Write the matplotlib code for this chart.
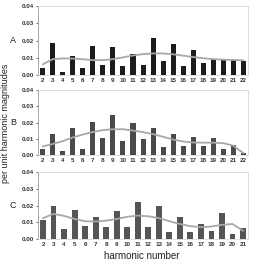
import numpy as np
import matplotlib.pyplot as plt

plt.rcParams['font.family'] = ['Liberation Sans', 'DejaVu Sans']

harm_ab = list(range(2, 23))
harm_c = list(range(2, 22))

bars_a = [0.004, 0.0185, 0.002, 0.011, 0.004, 0.017, 0.0055, 0.016, 0.005, 0.012, 0.0055,
          0.0215, 0.008, 0.018, 0.005, 0.0145, 0.007, 0.009, 0.009, 0.0085, 0.008]
trend_a = [0.0062, 0.0092, 0.0096, 0.0095, 0.0091, 0.0086, 0.0086, 0.0092, 0.0102, 0.0113, 0.0121,
           0.0125, 0.0125, 0.0120, 0.0112, 0.0104, 0.0097, 0.0092, 0.0089, 0.0087, 0.0085]

bars_b = [0.004, 0.013, 0.0025, 0.017, 0.004, 0.0205, 0.0105, 0.0245, 0.009, 0.020, 0.010,
          0.0165, 0.005, 0.013, 0.0055, 0.0115, 0.006, 0.0105, 0.004, 0.0065, 0.0015]
trend_b = [0.0055, 0.007, 0.0088, 0.011, 0.0128, 0.0143, 0.0155, 0.016, 0.016, 0.0152, 0.0142,
           0.013, 0.0114, 0.0097, 0.0085, 0.0079, 0.0078, 0.0078, 0.0075, 0.006, 0.0015]

bars_c = [0.0115, 0.020, 0.006, 0.0175, 0.0078, 0.013, 0.007, 0.017, 0.007, 0.022, 0.007,
          0.020, 0.004, 0.013, 0.004, 0.009, 0.005, 0.0155, 0.003, 0.0065]
trend_c = [0.0125, 0.015, 0.0138, 0.012, 0.0106, 0.0105, 0.011, 0.012, 0.0133, 0.014, 0.0136,
           0.0125, 0.0107, 0.009, 0.0077, 0.0071, 0.0075, 0.0085, 0.009, 0.005]

panels = [
    ("A", harm_ab, bars_a, trend_a, "#1c1c1c", 0.5, [0.148, 0.715, 0.817, 0.262]),
    ("B", harm_ab, bars_b, trend_b, "#4a4a4a", 0.5, [0.148, 0.409, 0.817, 0.249]),
    ("C", harm_c, bars_c, trend_c, "#555555", 0.55, [0.148, 0.091, 0.817, 0.255]),
]

fig = plt.figure(figsize=(2.57, 2.63), dpi=100)

for name, x, b, t, col, w, pos in panels:
    ax = fig.add_axes(pos)
    ax.bar(x, b, width=w, color=col, zorder=2)
    ax.plot(x, t, color="#a8a8a8", lw=1.3, zorder=3)
    ax.set_xlim(x[0] - 0.48, x[-1] + 0.48)
    ax.set_ylim(0, 0.04)
    ax.set_xticks(x)
    ax.set_yticks([0, 0.01, 0.02, 0.03, 0.04])
    ax.set_yticklabels(["0.00", "0.01", "0.02", "0.03", "0.04"])
    ax.tick_params(axis="both", labelsize=4.5, length=1.5, width=0.5, pad=1.5, colors="#333333")
    ax.tick_params(axis="x", length=0, pad=2)
    for lab in ax.get_xticklabels() + ax.get_yticklabels():
        lab.set_fontweight("bold")
    for s in ["top", "right", "bottom"]:
        ax.spines[s].set_color("#d8d8d8")
        ax.spines[s].set_linewidth(0.6)
    ax.spines["left"].set_color("#999999")
    ax.spines["left"].set_linewidth(0.6)
    ax.text(-0.12, 0.5, name, transform=ax.transAxes, fontsize=6.5, ha="center", va="center", color="#222222")

fig.text(0.022, 0.53, "per unit harmonic magnitudes", rotation=90, fontsize=6.5,
         ha="center", va="center", color="#222222")
fig.text(0.55, 0.025, "harmonic number", fontsize=7, ha="center", va="center", color="#222222")

fig.savefig("out.png", dpi=100)
